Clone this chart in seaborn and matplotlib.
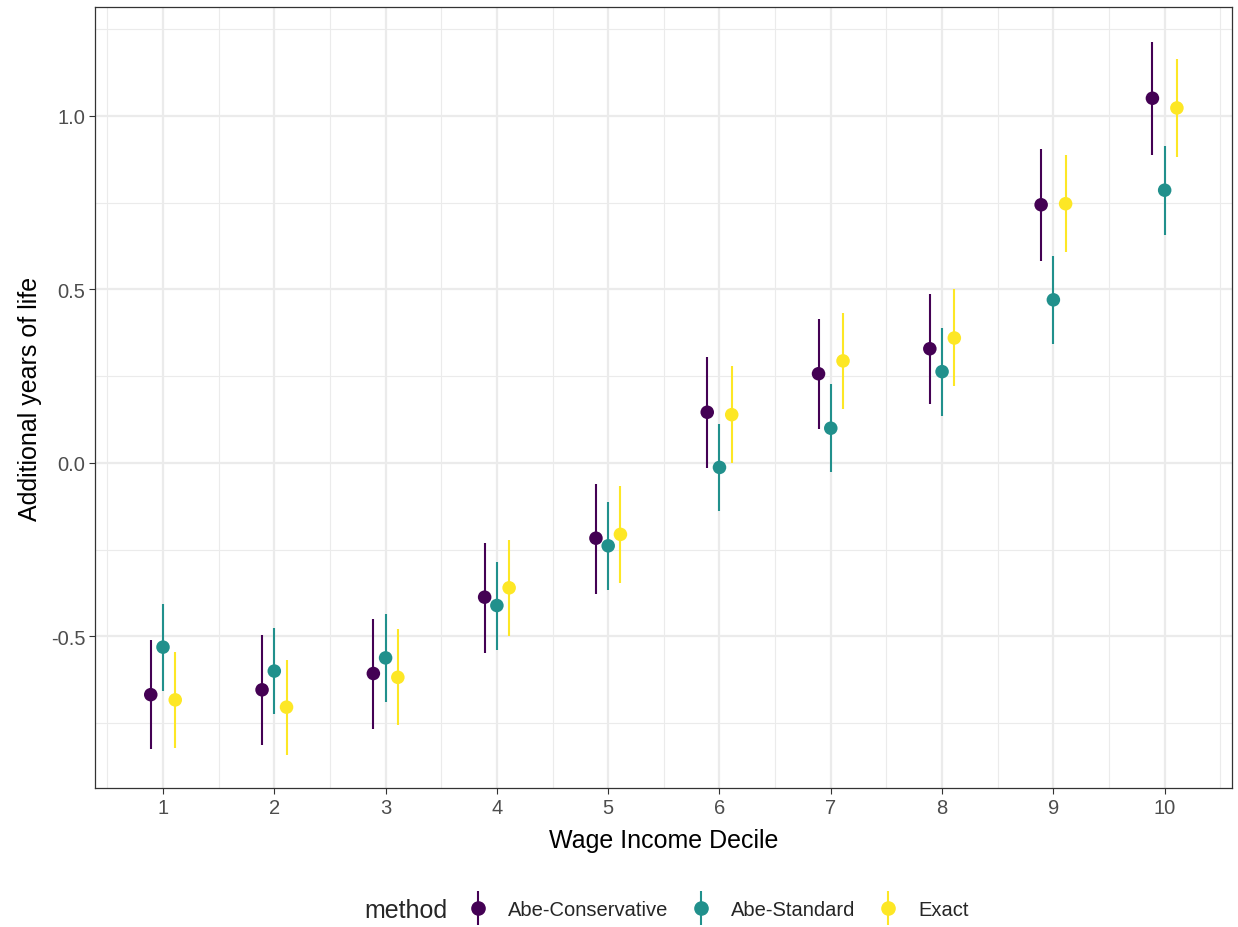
import numpy as np
import pandas as pd
import matplotlib
matplotlib.use("Agg")
import matplotlib.pyplot as plt
import seaborn as sns
from matplotlib.lines import Line2D
from matplotlib.legend_handler import HandlerTuple

# values
deciles = [1, 2, 3, 4, 5, 6, 7, 8, 9, 10]
methods = ["Abe-Conservative", "Abe-Standard", "Exact"]

est_cons = [-0.668, -0.654, -0.607, -0.387, -0.217, 0.146, 0.257, 0.329, 0.744, 1.051]
lo_cons  = [-0.826, -0.813, -0.767, -0.548, -0.378, -0.015, 0.097, 0.171, 0.583, 0.888]
hi_cons  = [-0.509, -0.496, -0.449, -0.231, -0.060, 0.305, 0.415, 0.487, 0.905, 1.212]

est_std = [-0.531, -0.600, -0.562, -0.411, -0.239, -0.013, 0.100, 0.263, 0.470, 0.786]
lo_std  = [-0.658, -0.725, -0.688, -0.539, -0.366, -0.140, -0.026, 0.136, 0.343, 0.658]
hi_std  = [-0.406, -0.476, -0.436, -0.287, -0.113, 0.112, 0.226, 0.389, 0.597, 0.914]

est_exact = [-0.683, -0.704, -0.618, -0.360, -0.206, 0.139, 0.294, 0.360, 0.747, 1.023]
lo_exact  = [-0.821, -0.841, -0.756, -0.498, -0.346, 0.000, 0.154, 0.221, 0.607, 0.883]
hi_exact  = [-0.546, -0.567, -0.480, -0.222, -0.067, 0.279, 0.432, 0.501, 0.886, 1.164]

PALETTE = {"Abe-Conservative": "#440154", "Abe-Standard": "#21908C", "Exact": "#FDE725"}
DODGE = 0.11
FONT = ["Liberation Sans", "DejaVu Sans"]

frames = []
for i, (m, est, lo, hi) in enumerate(zip(methods,
                                         [est_cons, est_std, est_exact],
                                         [lo_cons, lo_std, lo_exact],
                                         [hi_cons, hi_std, hi_exact])):
    frames.append(pd.DataFrame({
        "decile": deciles, "method": m, "est": est, "lo": lo, "hi": hi,
        "xpos": np.array(deciles) + (i - 1) * DODGE,
    }))
df = pd.concat(frames, ignore_index=True)

sns.set_theme(style="white")
plt.rcParams["font.family"] = FONT

fig = plt.figure(figsize=(12.38, 9.28), dpi=100)
ax = fig.add_axes([95 / 1238, 1 - 789 / 928, (1232 - 95) / 1238, (789 - 8) / 928])

# grid like theme_bw
for v in np.arange(-0.75, 1.3, 0.5):
    ax.axhline(v, color="#EBEBEB", lw=0.8, zorder=0)
for v in [-0.5, 0.0, 0.5, 1.0]:
    ax.axhline(v, color="#EBEBEB", lw=1.6, zorder=0)
for v in np.arange(0.5, 11, 1.0):
    ax.axvline(v, color="#EBEBEB", lw=0.8, zorder=0)
for v in deciles:
    ax.axvline(v, color="#EBEBEB", lw=1.6, zorder=0)

for m in methods:
    sub = df[df["method"] == m]
    ax.vlines(sub["xpos"], sub["lo"], sub["hi"], color=PALETTE[m], lw=1.5, zorder=2)

sns.scatterplot(data=df, x="xpos", y="est", hue="method", palette=PALETTE,
                s=95, edgecolor="none", linewidth=0, legend=False, ax=ax, zorder=3)

ax.set_xlim(0.389, 10.605)
ax.set_ylim(-0.937, 1.314)
ax.set_xticks(deciles)
ax.set_xticklabels([str(d) for d in deciles])
ax.set_yticks([-0.5, 0.0, 0.5, 1.0])
ax.set_yticklabels(["-0.5", "0.0", "0.5", "1.0"])
ax.tick_params(axis="both", which="major", length=4.5, width=0.8, color="#333333",
               labelsize=14.5, labelcolor="#4D4D4D", direction="out",
               bottom=True, left=True, pad=2.5)
for sp in ax.spines.values():
    sp.set_color("#333333")
    sp.set_linewidth(0.9)

ax.set_xlabel("Wage Income Decile", fontsize=18, color="black", labelpad=8)
ax.set_ylabel("Additional years of life", fontsize=18, color="black", labelpad=6)

# legend at bottom with title on the left
handles = []
for m in methods:
    bar = Line2D([], [], marker="|", markersize=24, markeredgewidth=1.5,
                 color=PALETTE[m], linestyle="none")
    dot = Line2D([], [], marker="o", markersize=9.5, color=PALETTE[m], linestyle="none")
    handles.append((bar, dot))
fig.text(364 / 1238, 1 - 911 / 928, "method", fontsize=18, va="center", ha="left")
fig.legend(handles, methods, handler_map={tuple: HandlerTuple(ndivide=1, pad=0)},
           loc="center left", bbox_to_anchor=(457 / 1238, 1 - 911 / 928), ncol=3,
           frameon=False, fontsize=14.5, handlelength=1.3, handletextpad=0.85,
           columnspacing=0.95, borderaxespad=0)

fig.savefig("out.png", dpi=100)
